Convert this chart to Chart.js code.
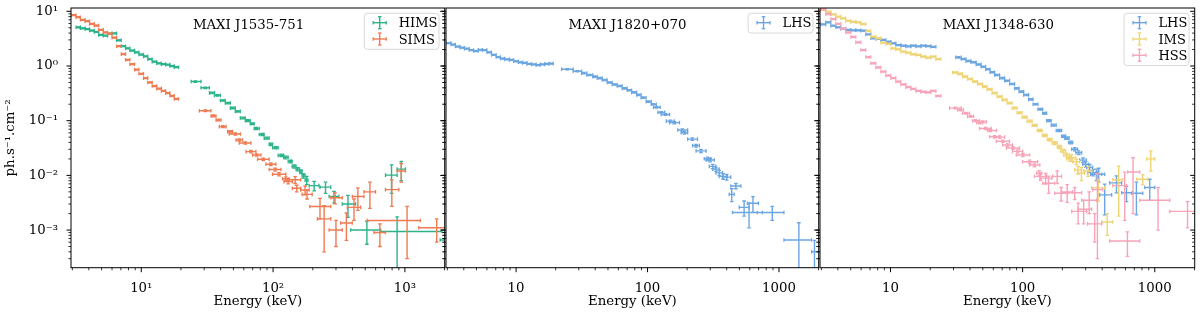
<!DOCTYPE html>
<html>
<head>
<meta charset="utf-8">
<script src="https://cdn.jsdelivr.net/npm/chart.js@4.4.1/dist/chart.umd.min.js"></script>
<style>
  html, body { margin: 0; padding: 0; background: #fff; }
  body { width: 1200px; height: 315px; position: relative; overflow: hidden; }
  canvas { position: absolute; top: 0; }
</style>
</head>
<body>
<canvas id="panelA" width="450" height="315" style="left:0px"></canvas>
<canvas id="panelB" width="384" height="315" style="left:440px"></canvas>
<canvas id="panelC" width="386" height="315" style="left:814px"></canvas>
<script>
// ---- axis ranges and ticks ----
const xMin = 2.93, xMax = 2005;
const yMin = 2.05e-4, yMax = 11.5;
const xMajor = [10, 100, 1000];
const yMajor = [1e-3, 1e-2, 1e-1, 1, 10];
const xTickSup = ['10¹', '10²', '10³'];
const xTickPlain = ['10', '100', '1000'];
const yTickText = ['10⁻³', '10⁻²', '10⁻¹', '10⁰', '10¹'];

// ---- low energy spectra: bin edges (keV) and flux per bin ----
const edgesA = [2.95, 3.2, 3.45, 3.75, 4.05, 4.4, 4.75, 5.15, 5.55, 6.0, 6.5, 7.05, 7.6, 8.2,
  8.9, 9.6, 10.4, 11.2, 12.1, 13.1, 14.2, 15.3, 16.5, 17.8, 19.2];
const edgesB = [2.97, 3.24, 3.54, 3.86, 4.21, 4.59, 5.01, 5.47, 5.97, 6.51, 7.1, 7.75, 8.46, 9.23,
  10.07, 10.98, 11.99, 13.08, 14.27, 15.57, 16.99, 18.53, 20.22, 22.07, 24.08];

const himsLow = [null, 5.1, 4.9, 4.75, 4.45, 4.2, 3.7, 3.6, 3.9, 3.95, 2.95, 2.3, 2.1, 1.92, 1.78,
  1.62, 1.5, 1.33, 1.2, 1.12, 1.08, 1.06, 1.0, 0.95];
const simsLow = [8.5, 7.8, 7.0, 6.6, 5.9, 5.5, 4.6, 4.1, 3.9, 3.3, 2.3, 1.65, 1.3, 1.08, 0.86,
  0.72, 0.6, 0.5, 0.43, 0.385, 0.35, 0.32, 0.285, 0.25];
const lhsALow = [2.63, 2.47, 2.27, 2.16, 2.07, 1.96, 1.88, 1.98, 1.96, 1.78, 1.6, 1.46, 1.37, 1.32,
  1.29, 1.22, 1.17, 1.14, 1.09, 1.07, 1.04, 1.07, 1.09, 1.11];
const lhsBLow = [5.78, 6.3, 5.45, 5.1, 4.8, 4.6, 4.5, 4.5, 4.42, 3.79, 3.21, 3.12, 2.99, 2.78, 2.6,
  2.42, 2.35, 2.29, 2.35, 2.29, 2.35, 2.32, 2.25, null];
const imsLow = [10.6, 9.8, 8.8, 8.0, 7.45, 6.7, 6.4, 6.3, 5.86, 4.37, 3.44, 3.21, 2.67, 2.53, 2.1,
  2.02, 1.83, 1.75, 1.64, 1.59, 1.49, 1.42, 1.49, 1.33];
const hssLow = [10.8, 8.9, 7.2, 5.9, 4.85, 4.1, 3.4, 2.7, 1.96, 1.46, 1.12, 0.94, 0.79, 0.67, 0.6,
  0.52, 0.46, 0.41, 0.38, 0.35, 0.335, 0.33, 0.35, 0.283];
const LOW_ERR = 0.02;

// ---- high energy spectra: [E, E low, E high, flux, flux error] ----
const himsHigh = [
  [25.7, 23.9, 28.4, 0.52, 0.015], [30.6, 28.4, 32.9, 0.40, 0.012], [34.3, 32.9, 35.9, 0.322, 0.01],
  [37.8, 35.9, 39.8, 0.29, 0.009], [41.6, 39.8, 43.4, 0.234, 0.007], [45.4, 43.4, 47.4, 0.21, 0.007],
  [49.5, 47.4, 51.7, 0.17, 0.006], [54.0, 51.7, 56.4, 0.148, 0.005], [58.9, 56.4, 61.5, 0.112, 0.004],
  [64.2, 61.5, 67.1, 0.10, 0.004], [69.5, 67.1, 71.9, 0.088, 0.003], [74.5, 71.9, 78.5, 0.072, 0.003],
  [82.7, 78.5, 85.6, 0.056, 0.0025], [89.4, 85.6, 93.4, 0.048, 0.002], [95.9, 93.4, 99.3, 0.037, 0.002],
  [104.6, 99.3, 109.3, 0.032, 0.0015], [115.2, 109.3, 120.3, 0.0232, 0.0012], [124.6, 120.3, 130.1, 0.0213, 0.0012],
  [135.9, 130.1, 139.5, 0.0179, 0.001], [144.4, 139.5, 149.5, 0.0146, 0.001], [153.5, 149.5, 158.9, 0.013, 0.0009],
  [163, 158.9, 166, 0.0117, 0.0009], [170, 166, 175, 0.0098, 0.0009], [180, 175, 184, 0.0082, 0.0014],
  [205, 188, 223, 0.0065, 0.0013], [250, 227, 274, 0.0061, 0.0014], [290, 266, 316, 0.0041, 0.001],
  [370, 335, 423, 0.003, 0.0013], [515, 388, 654, 0.001, 0.00045], [792, 713, 873, 0.0101, 0.0054],
  [873, 654, 1911, 0.00094, 0.0008], [939, 873, 1010, 0.013, 0.005], [2150, 1850, 2500, 0.00066, 0.0001]
];
const simsHigh = [
  [30.6, 27.6, 33.8, 0.152, 0.006], [35.2, 33.8, 36.9, 0.122, 0.005], [38.4, 36.9, 40.3, 0.103, 0.004],
  [41.6, 39.1, 44.0, 0.078, 0.003], [47.2, 45.2, 49.3, 0.063, 0.003], [51.7, 46.5, 56.6, 0.057, 0.0025],
  [55.4, 52.3, 58.7, 0.0444, 0.002], [61.5, 55.4, 67.9, 0.039, 0.0018], [67.9, 62.3, 74.1, 0.0272, 0.0013],
  [75.1, 69.9, 80.9, 0.0236, 0.0012], [84.2, 76.2, 93.4, 0.0197, 0.001], [96.2, 88.2, 105, 0.016, 0.0009],
  [103.7, 93.4, 114.6, 0.0128, 0.0008], [111, 99, 125, 0.0105, 0.0007], [125, 118, 132, 0.0087, 0.0007],
  [130, 121, 140, 0.0077, 0.0007], [147, 132, 162, 0.0083, 0.0012], [151, 140, 162, 0.0058, 0.0008],
  [175, 162, 188, 0.0054, 0.001], [181, 166, 198, 0.0045, 0.0008], [227, 190, 274, 0.0027, 0.0011],
  [244, 217, 274, 0.0016, 0.0012], [295, 274, 335, 0.0039, 0.0009], [300, 266, 335, 0.001, 0.0005],
  [360, 326, 399, 0.00135, 0.0007], [411, 366, 462, 0.0026, 0.0011], [440, 399, 489, 0.0041, 0.0018],
  [543, 489, 599, 0.005, 0.0025], [646, 582, 713, 0.0009, 0.0004], [796, 713, 899, 0.0055, 0.0028],
  [939, 873, 1010, 0.012, 0.0045], [1039, 518, 1312, 0.0015, 0.0012], [1743, 1274, 2344, 0.0011, 0.0005]
];
const lhsAHigh = [
  [24.5, 22.2, 27.2, 0.87, 0.02], [29.2, 27.2, 31.5, 0.80, 0.02], [32.7, 31.5, 34.5, 0.74, 0.02],
  [36.4, 34.5, 38.3, 0.685, 0.018], [39.7, 38.3, 41.4, 0.64, 0.017], [43.3, 41.4, 45.2, 0.60, 0.016],
  [47.2, 45.2, 49.3, 0.555, 0.015], [51.5, 49.3, 53.8, 0.50, 0.014], [56.2, 53.8, 58.7, 0.46, 0.013],
  [61.4, 58.7, 64.1, 0.43, 0.012], [67, 64.1, 70, 0.39, 0.011], [72.4, 70, 75.7, 0.36, 0.01],
  [79, 75.7, 82.6, 0.33, 0.01], [85.5, 82.6, 89.3, 0.296, 0.009], [92.5, 89.3, 97.5, 0.263, 0.008],
  [102, 97.5, 107, 0.223, 0.007], [110, 106.6, 116.5, 0.20, 0.006], [117, 111, 125, 0.176, 0.006],
  [127, 120, 135, 0.142, 0.005], [137, 127, 147, 0.13, 0.005], [149, 139, 160, 0.098, 0.004],
  [160, 147, 175, 0.092, 0.004], [184, 170, 202, 0.0676, 0.003], [191, 180, 202, 0.06, 0.003],
  [219, 202, 240, 0.046, 0.0025], [234, 220, 248, 0.035, 0.002], [255, 234, 279, 0.028, 0.0018],
  [286, 270, 304, 0.0201, 0.0015], [299, 279, 322, 0.0191, 0.0015], [313, 295, 331, 0.0146, 0.0013],
  [331, 313, 351, 0.013, 0.0012], [351, 331, 372, 0.0111, 0.0012], [376, 351, 405, 0.0096, 0.0011],
  [400, 372, 430, 0.0093, 0.0011], [437, 418, 456, 0.0045, 0.0012], [470, 430, 513, 0.0064, 0.0007],
  [543, 498, 592, 0.0026, 0.0008], [592, 443, 747, 0.0021, 0.001], [634, 575, 697, 0.0031, 0.001],
  [889, 685, 1091, 0.0021, 0.0006], [1417, 1091, 1770, 0.00066, 0.0007], [1862, 1770, 2390, 0.0004, 0.00025]
];
const lhsBHigh = [
  [32.7, 31.2, 34.3, 1.44, 0.04], [35.7, 34.3, 37.3, 1.34, 0.035], [39.0, 37.3, 40.7, 1.23, 0.03],
  [42.6, 40.7, 44.5, 1.17, 0.03], [46.4, 44.5, 48.5, 1.07, 0.027], [50.2, 48.5, 52.5, 0.97, 0.025],
  [54.6, 52.5, 56.7, 0.87, 0.022], [58.9, 56.7, 61.4, 0.77, 0.02], [63.8, 61.4, 67, 0.685, 0.018],
  [70.2, 67, 73.1, 0.60, 0.016], [76.0, 73.1, 79.7, 0.54, 0.014], [83.6, 79.7, 87, 0.47, 0.012],
  [90.6, 87, 94, 0.39, 0.01], [97.8, 94, 101.9, 0.34, 0.009], [106.6, 101.9, 111, 0.296, 0.008],
  [115.6, 111, 120, 0.245, 0.007], [125.3, 120, 130.6, 0.20, 0.006], [136.2, 130.6, 141.9, 0.162, 0.005],
  [146.8, 141.9, 152, 0.137, 0.005], [158.2, 152, 164.5, 0.10, 0.004], [171.8, 164.5, 179.5, 0.083, 0.0035],
  [188.4, 179.5, 197.3, 0.066, 0.003], [204.8, 197.3, 211.8, 0.052, 0.0025], [216.8, 208, 225, 0.048, 0.0025],
  [231.2, 222.8, 239.5, 0.040, 0.0022], [247.9, 235, 261, 0.030, 0.002], [265.6, 252.3, 279.8, 0.026, 0.002],
  [286.4, 270, 302.8, 0.019, 0.0018], [300, 285, 316, 0.016, 0.0018], [322, 305.6, 339, 0.014, 0.0018],
  [341, 310, 370, 0.0113, 0.0015], [361.6, 327, 397, 0.0105, 0.0025], [376.7, 339, 418, 0.0105, 0.003],
  [418, 383, 472, 0.0044, 0.0025], [513, 456, 562, 0.0073, 0.0025], [611, 562, 681, 0.0048, 0.0015],
  [726, 670, 811, 0.0047, 0.0028], [916, 840, 1000, 0.006, 0.0025]
];
const imsHigh = [
  [30.8, 29.5, 32.2, 0.76, 0.02], [33.6, 32.2, 35.1, 0.72, 0.02], [36.7, 35.1, 38.3, 0.64, 0.018],
  [40.0, 38.3, 41.8, 0.58, 0.016], [43.7, 41.8, 45.6, 0.52, 0.015], [47.6, 45.6, 49.8, 0.47, 0.013],
  [51.5, 49.8, 53.8, 0.42, 0.012], [56.2, 53.8, 58.7, 0.375, 0.011], [61.4, 58.7, 64.1, 0.32, 0.01],
  [67, 64.1, 70, 0.275, 0.009], [73.1, 70, 76.3, 0.24, 0.008], [79.7, 76.3, 83.3, 0.21, 0.007],
  [87, 83.3, 90.8, 0.17, 0.006], [94.9, 90.8, 99.1, 0.14, 0.005], [103.6, 99.1, 108.1, 0.116, 0.0045],
  [113, 108.1, 118, 0.098, 0.004], [123, 118, 128.9, 0.082, 0.0035], [135, 128.9, 140.6, 0.066, 0.003],
  [147, 140.6, 153.5, 0.054, 0.0028], [160, 153.5, 167.3, 0.045, 0.0025], [175, 167.3, 182.6, 0.039, 0.0025],
  [189.3, 182.6, 197.3, 0.033, 0.0022], [202.8, 194, 211.8, 0.028, 0.002], [215.4, 204.8, 227, 0.0236, 0.002],
  [227, 215.4, 239.5, 0.02, 0.002], [235, 223, 252.3, 0.021, 0.003], [255.4, 239.5, 270, 0.0177, 0.002],
  [262.4, 247.9, 279.8, 0.0126, 0.002], [278.6, 261, 295, 0.011, 0.003], [312.6, 290, 333, 0.0121, 0.0025],
  [373, 333, 418, 0.0059, 0.0025], [436.5, 396, 481, 0.0014, 0.0006], [533, 481, 573, 0.0083, 0.0065],
  [811, 731, 885, 0.0085, 0.0018], [933, 868, 1000, 0.02, 0.008]
];
const hssHigh = [
  [31.0, 28.0, 34.3, 0.17, 0.006], [33.9, 32.2, 35.7, 0.158, 0.006], [37.3, 35.1, 39.7, 0.137, 0.005],
  [40.4, 38.3, 42.6, 0.12, 0.005], [44.0, 41.8, 47.2, 0.10, 0.004], [47.2, 44.9, 49.8, 0.092, 0.004],
  [50.0, 47.2, 53.1, 0.095, 0.004], [52.5, 47.2, 57.9, 0.072, 0.003], [56.9, 54.3, 63.5, 0.066, 0.003],
  [61.4, 56.2, 67, 0.051, 0.0025], [67, 61.4, 73.1, 0.05, 0.0025], [70.9, 63.2, 79.7, 0.042, 0.002],
  [76.9, 70.5, 83.9, 0.036, 0.002], [84.5, 75.3, 94.9, 0.0316, 0.0018], [91.6, 83.9, 100, 0.0275, 0.0018],
  [100.5, 89.6, 113, 0.0236, 0.0015], [113, 100, 130, 0.0178, 0.0012], [123, 113, 135, 0.0155, 0.0012],
  [133.4, 127.7, 139.4, 0.011, 0.0012], [136.8, 123, 152, 0.0096, 0.0015], [149.3, 135, 166, 0.0089, 0.002],
  [157.3, 141.9, 174.6, 0.0072, 0.0025], [182.5, 168.6, 197.3, 0.0096, 0.0025], [195.7, 174.6, 219, 0.0047, 0.0013],
  [217.3, 197.3, 239.5, 0.005, 0.0018], [247.9, 219, 279.8, 0.0048, 0.0012], [263, 235, 305.6, 0.0022, 0.0009],
  [289.7, 261, 333, 0.0024, 0.0011], [319, 279.8, 364, 0.0035, 0.0015], [351, 310, 397, 0.0013, 0.0007],
  [368, 339, 404, 0.0055, 0.0052], [592, 481, 613, 0.0065, 0.005], [621, 456, 770, 0.00063, 0.0003],
  [685, 624, 770, 0.0115, 0.0095], [1059, 770, 1299, 0.0035, 0.0025], [1770, 1299, 2612, 0.0022, 0.0011]
];

const colors = { hims: '#2bb38a', sims: '#f07a52', lhs: '#6ba6e2', ims: '#efd474', hss: '#f7a3b8' };
const FONT = 'DejaVu Serif';
const FLUX_FLOOR = 1e-5;
const MAJOR_LEN = 4.5, MINOR_LEN = 2.6;

function binRows(edges, flux) {
  const rows = [];
  flux.forEach((f, i) => {
    if (f == null) return;
    rows.push([Math.sqrt(edges[i] * edges[i + 1]), edges[i], edges[i + 1], f, f * LOW_ERR]);
  });
  return rows;
}

// one series -> bars + caps, all drawn by chart.js on the log scales
function errorbarSets(rows, color, order) {
  const bars = [], hCaps = [], vCaps = [];
  rows.forEach(([e, lo, hi, f, df]) => {
    const fLo = Math.max(f - df, FLUX_FLOOR);
    bars.push({x: lo, y: f}, {x: hi, y: f}, {x: e, y: null},
              {x: e, y: fLo}, {x: e, y: f + df}, {x: e, y: null});
    vCaps.push({x: lo, y: f}, {x: hi, y: f});
    hCaps.push({x: e, y: fLo}, {x: e, y: f + df});
  });
  const common = { borderColor: color, pointBorderColor: color, backgroundColor: color, order: order, clip: 0 };
  return [
    Object.assign({}, common, { data: bars, borderWidth: 1.4, pointRadius: 0, spanGaps: false, tension: 0 }),
    Object.assign({}, common, { data: hCaps, showLine: false, pointStyle: 'line', pointRadius: 1.8, pointBorderWidth: 1.3 }),
    Object.assign({}, common, { data: vCaps, showLine: false, pointStyle: 'line', pointRotation: 90, pointRadius: 1.8, pointBorderWidth: 1.3 })
  ];
}

function minorValues(lo, hi) {
  const out = [];
  for (let k = Math.floor(Math.log10(lo)); k <= Math.ceil(Math.log10(hi)); k++) {
    for (let m = 2; m <= 9; m++) {
      const v = m * Math.pow(10, k);
      if (v >= lo && v <= hi) out.push(v);
    }
  }
  return out;
}

function decor(cfg) {
  return {
    id: 'decor',
    afterDraw(chart) {
      const { ctx, chartArea: a } = chart;
      const sx = chart.scales.x, sy = chart.scales.y;
      const seg = (x1, y1, x2, y2, w) => {
        ctx.lineWidth = w;
        ctx.beginPath(); ctx.moveTo(x1, y1); ctx.lineTo(x2, y2); ctx.stroke();
      };
      ctx.save();
      ctx.strokeStyle = '#000';
      minorValues(xMin, xMax).forEach(v => {
        const p = sx.getPixelForValue(v);
        seg(p, a.bottom, p, a.bottom + MINOR_LEN, 0.8);
      });
      xMajor.forEach(v => {
        const p = sx.getPixelForValue(v);
        seg(p, a.bottom, p, a.bottom + MAJOR_LEN, 1);
      });
      minorValues(yMin, yMax).forEach(v => {
        const p = sy.getPixelForValue(v);
        seg(a.left - MINOR_LEN, p, a.left, p, 0.8);
        seg(a.right - MINOR_LEN, p, a.right, p, 0.8);
      });
      yMajor.forEach(v => {
        const p = sy.getPixelForValue(v);
        seg(a.left - MAJOR_LEN, p, a.left, p, 1);
        seg(a.right - MAJOR_LEN, p, a.right, p, 1);
      });
      ctx.lineWidth = 1;
      ctx.strokeRect(a.left, a.top, a.right - a.left, a.bottom - a.top);

      // panel title inside the axes
      ctx.fillStyle = '#000';
      ctx.font = '13.3px "' + FONT + '"';
      ctx.textAlign = 'center';
      ctx.textBaseline = 'alphabetic';
      ctx.fillText(cfg.title, a.left + cfg.titleFrac * (a.right - a.left), a.top + 21);

      // legend box
      ctx.font = '13px "' + FONT + '"';
      const tw = Math.max(...cfg.legend.map(l => ctx.measureText(l[0]).width));
      const w = 36 + tw, h = 3.4 + 16.3 * cfg.legend.length;
      const bx = a.right - 5.7 - w, by = a.top + 5.3;
      ctx.beginPath();
      ctx.roundRect(bx, by, w, h, 3);
      ctx.fillStyle = 'rgba(255,255,255,0.85)';
      ctx.fill();
      ctx.strokeStyle = '#d8d8d8';
      ctx.lineWidth = 1;
      ctx.stroke();
      cfg.legend.forEach(([label, color], i) => {
        const cy = by + 9.4 + 16.3 * i, cx = bx + 15.4;
        ctx.strokeStyle = color;
        seg(cx - 6.5, cy, cx + 6.5, cy, 1.4);
        seg(cx, cy - 6, cx, cy + 6, 1.4);
        seg(cx - 6.5, cy - 1.8, cx - 6.5, cy + 1.8, 1.3);
        seg(cx + 6.5, cy - 1.8, cx + 6.5, cy + 1.8, 1.3);
        seg(cx - 1.8, cy - 6, cx + 1.8, cy - 6, 1.3);
        seg(cx - 1.8, cy + 6, cx + 1.8, cy + 6, 1.3);
        ctx.fillStyle = '#000';
        ctx.textAlign = 'left';
        ctx.fillText(label, bx + 34.4, cy + 4.6);
      });
      ctx.restore();
    }
  };
}

function makePanel(id, cfg) {
  const font = { family: FONT, size: 13.3 };
  const yAxis = cfg.showY ? {
    type: 'logarithmic', min: yMin, max: yMax,
    grid: { display: false }, border: { display: false },
    afterBuildTicks: s => { s.ticks = yMajor.map(v => ({ value: v })); },
    afterFit: s => { s.width = 71; s.paddingTop = 0; s.paddingBottom = 0; },
    ticks: { autoSkip: false, padding: 5, color: '#000', font: font, callback: (v, i) => yTickText[i] },
    title: { display: true, text: 'ph.s⁻¹.cm⁻²', color: '#000', font: font, padding: { top: 3, bottom: 0 } }
  } : { type: 'logarithmic', min: yMin, max: yMax, display: false };

  return new Chart(document.getElementById(id), {
    type: 'line',
    data: { datasets: cfg.datasets },
    options: {
      responsive: false,
      animation: false,
      events: [],
      layout: { padding: cfg.padding },
      plugins: { legend: { display: false }, tooltip: { enabled: false } },
      scales: {
        x: {
          type: 'logarithmic', min: xMin, max: xMax,
          grid: { display: false }, border: { display: false },
          afterBuildTicks: s => { s.ticks = xMajor.map(v => ({ value: v })); },
          afterFit: s => { s.height = 47.3; s.paddingLeft = 0; s.paddingRight = 0; },
          ticks: { autoSkip: false, maxRotation: 0, padding: 5, color: '#000', font: font,
                   callback: (v, i) => cfg.xLabels[i] },
          title: { display: true, text: 'Energy (keV)', color: '#000', font: font, padding: { top: 0, bottom: 5 } }
        },
        y: yAxis
      }
    },
    plugins: [decor(cfg)]
  });
}

makePanel('panelA', {
  title: 'MAXI J1535-751', titleFrac: 0.475, showY: true, xLabels: xTickSup,
  padding: { left: 0, right: 4, top: 8, bottom: 0 },
  legend: [['HIMS', colors.hims], ['SIMS', colors.sims]],
  datasets: [
    ...errorbarSets(binRows(edgesA, himsLow).concat(himsHigh), colors.hims, 2),
    ...errorbarSets(binRows(edgesA, simsLow).concat(simsHigh), colors.sims, 1)
  ]
});

makePanel('panelB', {
  title: 'MAXI J1820+070', titleFrac: 0.487, showY: false, xLabels: xTickPlain,
  padding: { left: 6, right: 4, top: 8, bottom: 0 },
  legend: [['LHS', colors.lhs]],
  datasets: errorbarSets(binRows(edgesA, lhsALow).concat(lhsAHigh), colors.lhs, 1)
});

makePanel('panelC', {
  title: 'MAXI J1348-630', titleFrac: 0.476, showY: false, xLabels: xTickPlain,
  padding: { left: 6, right: 5, top: 8, bottom: 0 },
  legend: [['LHS', colors.lhs], ['IMS', colors.ims], ['HSS', colors.hss]],
  datasets: [
    ...errorbarSets(binRows(edgesB, lhsBLow).concat(lhsBHigh), colors.lhs, 3),
    ...errorbarSets(binRows(edgesB, imsLow).concat(imsHigh), colors.ims, 2),
    ...errorbarSets(binRows(edgesB, hssLow).concat(hssHigh), colors.hss, 1)
  ]
});
</script>
</body>
</html>
